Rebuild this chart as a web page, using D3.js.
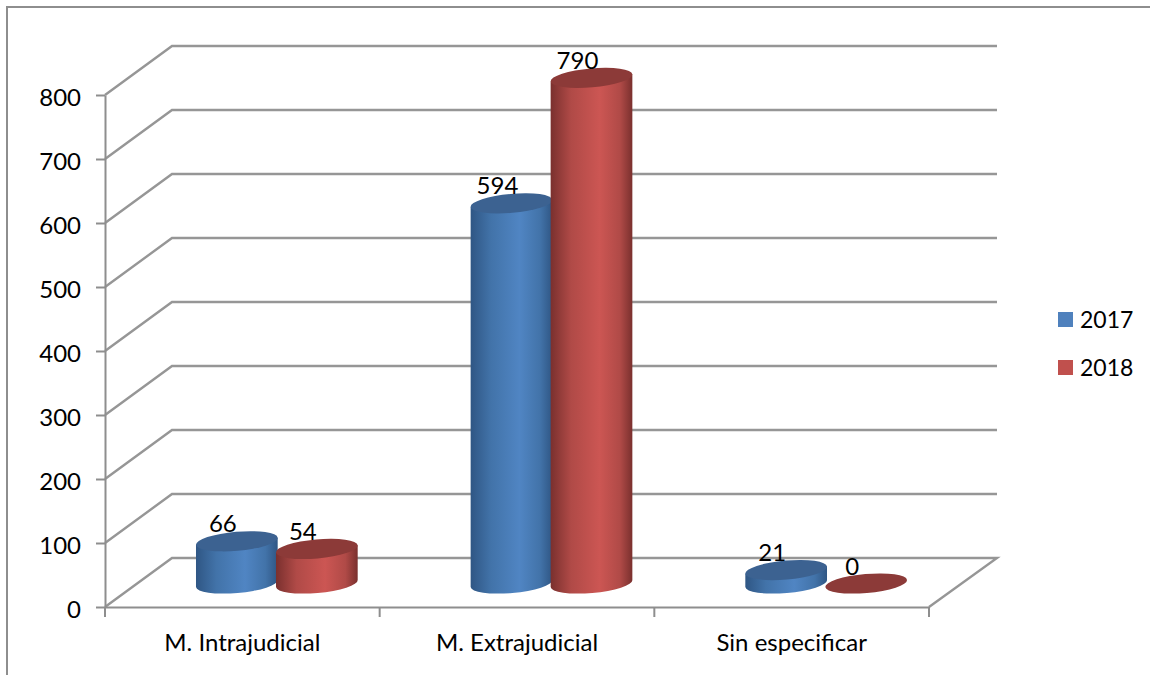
<!DOCTYPE html>
<html>
<head>
<meta charset="utf-8">
<script src="https://cdn.jsdelivr.net/npm/d3@7/dist/d3.min.js"></script>
<style>
  html, body { margin: 0; padding: 0; background: #fff; }
  svg { display: block; }
  text { font-family: Lato, "Open Sans", sans-serif; fill: #000; }
  .axis path { stroke: #8e8e8e; stroke-width: 2; }
  .axis line { stroke: #8e8e8e; stroke-width: 2; }
  .axis text { font-size: 24px; font-family: Lato, sans-serif; fill: #000; }
</style>
</head>
<body>
<div id="container"></div>
<script>
var categories = ["M. Intrajudicial", "M. Extrajudicial", "Sin especificar"];
var seriesNames = ["2017", "2018"];
var values2017 = [66, 594, 21];
var values2018 = [54, 790, 0];
var yTicks = [0, 100, 200, 300, 400, 500, 600, 700, 800];

var colors = {
  "2017": { edge: "#2f5684", soft: "#4273a9", mid: "#5085c3", top: "#3c6291", key: "#4f81bd" },
  "2018": { edge: "#7a302e", soft: "#b04a47", mid: "#cc5653", top: "#8c3a38", key: "#c0504d" }
};

var width = 1150, height = 675;
var depthX = 67, depthY = -49;
var rx = 41, ry = 9.5, tilt = -5;

var svg = d3.select("#container").append("svg")
  .attr("width", width)
  .attr("height", height);

var x = d3.scaleBand().domain(categories).range([105, 929]);
var xInner = d3.scaleBand().domain(seriesNames).range([-80, 80]);
var y = d3.scaleLinear().domain([0, 800]).range([607, 95]);

// outer chart border, only top and left show up in the picture
svg.append("path")
  .attr("d", "M7,675V7H1150")
  .attr("fill", "none")
  .attr("stroke", "#8e8e8e")
  .attr("stroke-width", 2);

// back wall + side lines
var grid = svg.append("g").attr("fill", "none").attr("stroke", "#969696").attr("stroke-width", 2.4);
yTicks.forEach(function(t) {
  var p = d3.path();
  p.moveTo(x.range()[0], y(t));
  p.lineTo(x.range()[0] + depthX, y(t) + depthY);
  p.lineTo(x.range()[1] + depthX + 1, y(t) + depthY);
  if (t === 0) p.lineTo(x.range()[1], y(t));
  grid.append("path").attr("d", p.toString());
});

// axes
svg.append("g").attr("class", "axis")
  .attr("transform", "translate(105,0)")
  .call(d3.axisLeft(y).tickValues(yTicks).tickSize(9).tickPadding(15).tickSizeOuter(0))
  .selectAll("text").attr("dy", "0.42em");

var xAxis = d3.axisBottom(x).tickSize(0).tickPadding(27).tickSizeOuter(0);
var xg = svg.append("g").attr("class", "axis")
  .attr("transform", "translate(0,607)")
  .call(xAxis);
xg.selectAll("text").attr("dy", "0.71em").attr("dx", "0");
xg.selectAll(".edge").data([0, 1, 2, 3]).enter().append("line")
  .attr("class", "edge")
  .attr("x1", function(i) { return x.range()[0] + i * x.bandwidth(); })
  .attr("x2", function(i) { return x.range()[0] + i * x.bandwidth(); })
  .attr("y1", 0).attr("y2", 10);

// gradients for the cylinder sides
var defs = svg.append("defs");
seriesNames.forEach(function(s) {
  var g = defs.append("linearGradient").attr("id", "side" + s);
  g.append("stop").attr("offset", "0%").attr("stop-color", colors[s].edge);
  g.append("stop").attr("offset", "25%").attr("stop-color", colors[s].soft);
  g.append("stop").attr("offset", "60%").attr("stop-color", colors[s].mid);
  g.append("stop").attr("offset", "85%").attr("stop-color", colors[s].soft);
  g.append("stop").attr("offset", "100%").attr("stop-color", colors[s].edge);
});

function cylinder(cx, value, s) {
  var base = y(0) + depthY / 2 + 1;
  var top = base - (y(0) - y(value));
  var rad = tilt * Math.PI / 180;
  var dx = rx * Math.cos(rad), dy = rx * Math.sin(rad);
  var g = svg.append("g");
  if (value > 0) {
    var side = "M" + (cx - dx) + "," + (top - dy) +
      "L" + (cx - dx) + "," + (base - dy) +
      "A" + rx + "," + ry + " " + tilt + " 0 0 " + (cx + dx) + "," + (base + dy) +
      "L" + (cx + dx) + "," + (top + dy) + "Z";
    g.append("path").attr("d", side).attr("fill", "url(#side" + s + ")");
  }
  g.append("ellipse")
    .attr("rx", rx).attr("ry", ry)
    .attr("transform", "translate(" + cx + "," + top + ") rotate(" + tilt + ")")
    .attr("fill", colors[s].top);
  g.append("text")
    .attr("x", cx - 14).attr("y", top - 9)
    .attr("text-anchor", "middle")
    .style("font-size", "24px")
    .text(value);
}

categories.forEach(function(c, i) {
  var center = x(c) + x.bandwidth() / 2 + depthX / 2 + 1;
  cylinder(center + xInner("2017") + xInner.bandwidth() / 2, values2017[i], "2017");
  cylinder(center + xInner("2018") + xInner.bandwidth() / 2, values2018[i], "2018");
});

// legend
var legend = d3.scaleBand().domain(seriesNames).range([296, 392]);
seriesNames.forEach(function(s) {
  svg.append("rect")
    .attr("x", 1058).attr("y", legend(s) + 16)
    .attr("width", 15).attr("height", 15)
    .attr("fill", colors[s].key);
  svg.append("text")
    .attr("x", 1080).attr("y", legend(s) + 32)
    .style("font-size", "23px")
    .text(s);
});
</script>
</body>
</html>
